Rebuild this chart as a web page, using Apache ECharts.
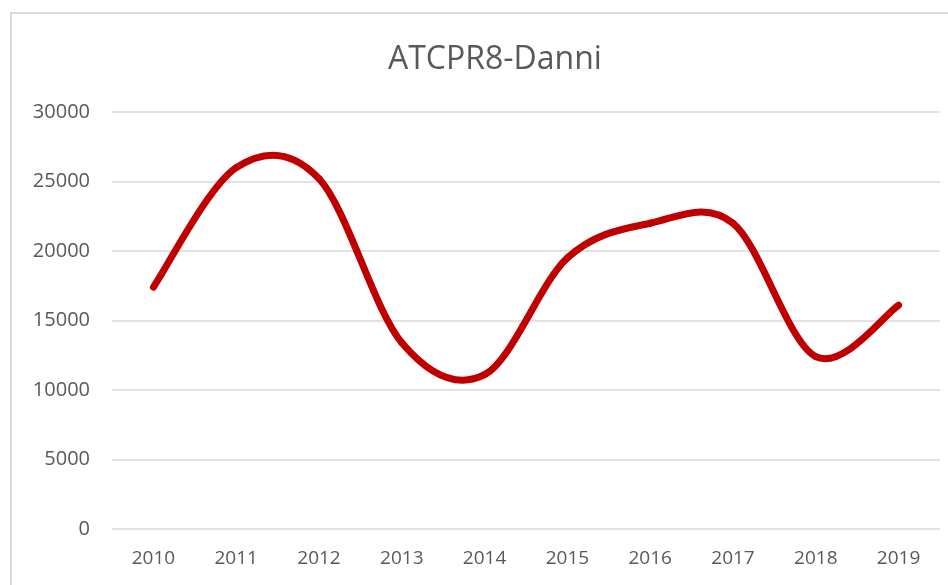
<!DOCTYPE html>
<html lang="en">
<head>
    <meta charset="UTF-8">
    <title>ATCPR8-Danni</title>
    <script src="https://cdn.jsdelivr.net/npm/echarts@6/dist/echarts.min.js"></script>
    <style>
        html, body { margin: 0; padding: 0; background: #ffffff; }
        #frame {
            position: absolute; left: 10px; top: 12px;
            width: 960px; height: 600px;
            border: 2px solid #d9d9d9; box-sizing: border-box;
        }
        #main { position: absolute; left: 0; top: 0; width: 948px; height: 585px; }
    </style>
</head>
<body>
<div id="frame"></div>
<div id="main"></div>
<script>
    // 年份和数值
    var years = ['2010', '2011', '2012', '2013', '2014', '2015', '2016', '2017', '2018', '2019'];
    var values = [17400, 26000, 25200, 13400, 11100, 19500, 22000, 22000, 12400, 16100];
    var yTicks = [0, 5000, 10000, 15000, 20000, 25000, 30000];

    var chart = echarts.init(document.getElementById('main'), null, {renderer: 'canvas'});
    var font = "'Open Sans', 'Noto Sans', sans-serif";

    // Excel 风格的平滑线：每段用 Catmull-Rom 转成三次贝塞尔
    function renderSegment(params, api) {
        var i = params.dataIndex;
        var n = values.length;
        if (i >= n - 1) {
            return null;
        }
        var pt = function (k) {
            k = Math.max(0, Math.min(n - 1, k));
            return api.coord([k, values[k]]);
        };
        var p0 = pt(i - 1), p1 = pt(i), p2 = pt(i + 1), p3 = pt(i + 2);
        return {
            type: 'bezierCurve',
            shape: {
                x1: p1[0], y1: p1[1],
                cpx1: p1[0] + (p2[0] - p0[0]) / 6,
                cpy1: p1[1] + (p2[1] - p0[1]) / 6,
                cpx2: p2[0] - (p3[0] - p1[0]) / 6,
                cpy2: p2[1] - (p3[1] - p1[1]) / 6,
                x2: p2[0], y2: p2[1]
            },
            style: {
                fill: null,
                stroke: '#c00000',
                lineWidth: 7,
                lineCap: 'round'
            }
        };
    }

    var option = {
        backgroundColor: 'transparent',
        animation: false,
        title: {
            text: 'ATCPR8-Danni',
            left: 383,
            top: 39,
            textStyle: {
                fontFamily: font,
                fontSize: 32,
                fontWeight: 'normal',
                color: '#595959'
            }
        },
        grid: {
            left: 112,
            right: 8,
            top: 112,
            bottom: 56,
            containLabel: false
        },
        xAxis: {
            type: 'category',
            data: years,
            boundaryGap: true,
            axisLine: {show: false},
            axisTick: {show: false},
            axisLabel: {
                margin: 20,
                fontFamily: font,
                fontSize: 19,
                color: '#595959'
            }
        },
        yAxis: {
            type: 'value',
            min: yTicks[0],
            max: yTicks[yTicks.length - 1],
            interval: 5000,
            axisLine: {show: false},
            axisTick: {show: false},
            axisLabel: {
                margin: 22,
                fontFamily: font,
                fontSize: 20,
                color: '#595959',
                formatter: function (v) { return String(v); }
            },
            splitLine: {
                lineStyle: {color: '#d9d9d9', width: 1.5}
            }
        },
        series: [
            {
                type: 'custom',
                renderItem: renderSegment,
                data: values.map(function (v, i) { return [i, v]; }),
                encode: {x: 0, y: 1}
            }
        ]
    };
    chart.setOption(option);
</script>
</body>
</html>
